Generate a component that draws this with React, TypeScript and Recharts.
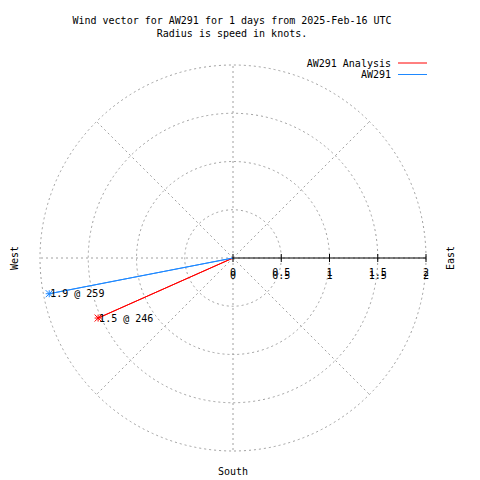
import React from "react";
import {
  RadarChart,
  Radar,
  PolarGrid,
  PolarAngleAxis,
  PolarRadiusAxis,
  Legend,
} from "recharts";

// wind vectors: direction (deg, compass) and speed (knots)
const directions = [246, 259];
const analysisSpeed = [1.53, 0];
const stationSpeed = [0, 1.94];

const seriesNames = ["AW291 Analysis", "AW291"];
const seriesColors = ["#ff0000", "#1e88ff"];

const radiusTicks = [0, 0.5, 1, 1.5, 2];
const compassTicks = [90, 180, 270];
const compassNames: Record<number, string> = { 90: "East", 180: "South", 270: "West" };
const gridAngles = [0, 45, 90, 135, 180, 225, 270, 315];

const titleLines = [
  "Wind vector for AW291 for 1 days from 2025-Feb-16 UTC",
  "Radius is speed in knots.",
];

const chartData = directions.map((dir, i) => ({
  dir,
  analysis: analysisSpeed[i],
  station: stationSpeed[i],
}));

const FONT = "'DejaVu Sans Mono', monospace";
const GRID = "#a0a0a0";

const makeDot = (color: string, key: "analysis" | "station") => (props: any) => {
  const { cx, cy, index } = props;
  const row = chartData[index];
  const value = row ? row[key] : 0;
  if (!value || cx == null || cy == null) return <g key={`d-${key}-${index}`} />;
  const s = 3.5;
  return (
    <g key={`d-${key}-${index}`}>
      <line x1={cx - s} x2={cx + s} y1={cy} y2={cy} stroke={color} />
      <line x1={cx} x2={cx} y1={cy - s} y2={cy + s} stroke={color} />
      <line x1={cx - s} x2={cx + s} y1={cy - s} y2={cy + s} stroke={color} />
      <line x1={cx - s} x2={cx + s} y1={cy + s} y2={cy - s} stroke={color} />
      <text
        x={cx + 1}
        y={cy}
        dominantBaseline="central"
        fontFamily={FONT}
        fontSize={10}
        fill="#000"
      >
        {`${value.toFixed(1)} @ ${row.dir}`}
      </text>
    </g>
  );
};

const EastTick = (props: any) => {
  const { x, y, payload } = props;
  const label = String(payload.value);
  return (
    <g>
      <line x1={x} x2={x} y1={y - 4} y2={y + 4} stroke="#000" />
      <text x={x} y={y + 14.5} textAnchor="middle" dominantBaseline="central" fontFamily={FONT} fontSize={10} fill="#000">
        {label}
      </text>
      <text x={x} y={y + 17} textAnchor="middle" dominantBaseline="central" fontFamily={FONT} fontSize={10} fill="#000">
        {label}
      </text>
    </g>
  );
};

const WestTick = (props: any) => {
  const { x, y, payload } = props;
  return (
    <g>
      <line x1={x} x2={x} y1={y - 3} y2={y + 4} stroke="#000" />
      <text x={x} y={y + 18} textAnchor="middle" dominantBaseline="central" fontFamily={FONT} fontSize={10} fill="#000">
        {String(payload.value)}
      </text>
    </g>
  );
};

const CompassTick = (props: any) => {
  const { x, y, cx, cy, payload } = props;
  const dx = x - cx;
  const dy = y - cy;
  const d = Math.hypot(dx, dy) || 1;
  const extra = payload.value === 180 ? 12 : payload.value === 90 ? 16 : 18;
  const px = x + (dx / d) * extra;
  const py = y + (dy / d) * extra;
  const rotate = payload.value !== 180;
  return (
    <text
      x={px}
      y={py}
      textAnchor="middle"
      dominantBaseline="central"
      fontFamily={FONT}
      fontSize={10}
      fill="#000"
      transform={rotate ? `rotate(-90 ${px} ${py})` : undefined}
    >
      {compassNames[payload.value]}
    </text>
  );
};

const LegendBox = ({ payload }: any) => {
  const items = seriesNames.map((n, i) => {
    const found = (payload || []).find((p: any) => p.value === n);
    return { value: n, color: found?.color ?? seriesColors[i] };
  });
  return (
    <svg width={140} height={30} style={{ display: "block" }}>
      {items.map((it: any, i: number) => (
        <g key={it.value}>
          <text x={101} y={8 + i * 11.5} textAnchor="end" dominantBaseline="central" fontFamily={FONT} fontSize={10} fill="#000">
            {it.value}
          </text>
          <line x1={108} x2={137} y1={8 + i * 11.5} y2={8 + i * 11.5} stroke={it.color} />
        </g>
      ))}
    </svg>
  );
};

export default function App() {
  return (
    <div style={{ position: "absolute", left: 0, top: 0, width: 480, height: 480, background: "#fff" }}>
      <RadarChart
        width={480}
        height={480}
        data={chartData}
        cx={233}
        cy={258}
        outerRadius={193}
        margin={{ top: 0, right: 0, bottom: 0, left: 0 }}
      >
        <PolarGrid
          gridType="circle"
          polarAngles={gridAngles}
          stroke={GRID}
          strokeDasharray="2 3"
        />
        <PolarAngleAxis
          dataKey="dir"
          type="number"
          domain={[0, 360]}
          ticks={compassTicks}
          axisLine={false}
          tickLine={false}
          tick={<CompassTick />}
        />
        <PolarRadiusAxis
          angle={0}
          domain={[0, 2]}
          ticks={radiusTicks}
          axisLine={{ stroke: "#000" }}
          tick={<EastTick />}
        />
        <PolarRadiusAxis
          radiusAxisId="west"
          angle={180}
          domain={[0, 2]}
          ticks={radiusTicks}
          axisLine={false}
          tick={<WestTick />}
        />
        <Radar
          name={seriesNames[0]}
          dataKey="analysis"
          stroke={seriesColors[0]}
          strokeWidth={1}
          fill="none"
          fillOpacity={0}
          dot={makeDot(seriesColors[0], "analysis")}
          isAnimationActive={false}
        />
        <Radar
          name={seriesNames[1]}
          dataKey="station"
          stroke={seriesColors[1]}
          strokeWidth={1}
          fill="none"
          fillOpacity={0}
          dot={makeDot(seriesColors[1], "station")}
          isAnimationActive={false}
        />
        <Legend
          content={<LegendBox />}
          wrapperStyle={{ position: "absolute", left: 290, top: 55, width: 140, height: 30 }}
        />
      </RadarChart>
      <svg width={480} height={45} style={{ position: "absolute", left: 0, top: 0, pointerEvents: "none" }}>
        {titleLines.map((t, i) => (
          <text key={t} x={232} y={20 + i * 13.5} textAnchor="middle" dominantBaseline="central" fontFamily={FONT} fontSize={10} fill="#000">
            {t}
          </text>
        ))}
      </svg>
    </div>
  );
}
